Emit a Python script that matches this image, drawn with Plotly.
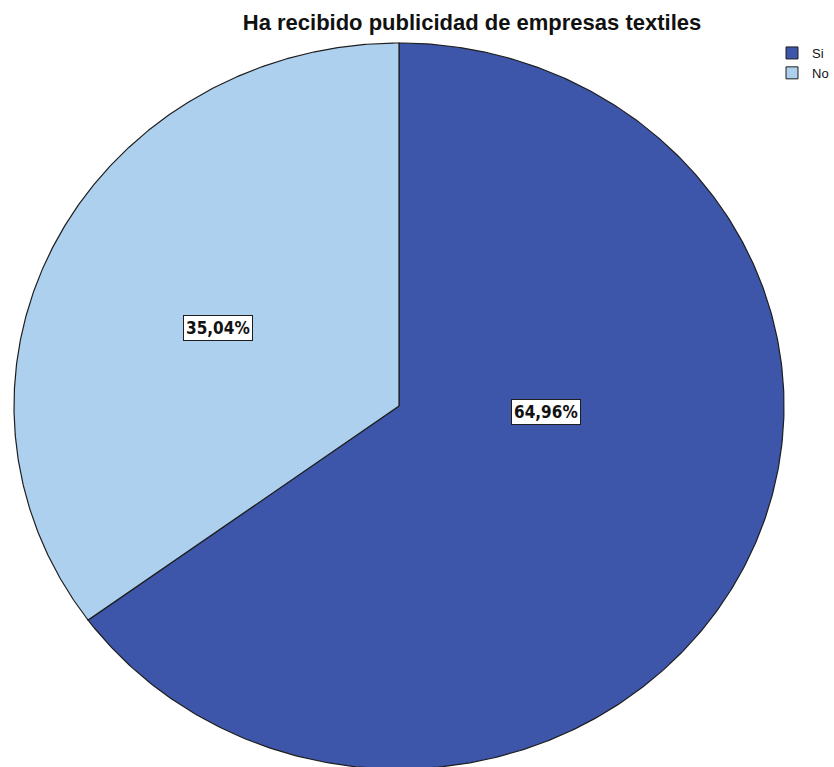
import numpy as np
import plotly.graph_objects as go

# ---- data ----
title_text = "Ha recibido publicidad de empresas textiles"
categories = ["Si", "No"]
percentages = [64.96, 35.04]
label_texts = ["64,96%", "35,04%"]

# ---- styles ----
colors = ["#3D56AA", "#ADD0EE"]
outline = "#1E1E1E"
W, H = 834, 767
CX, CY = 399, 406          # pie centre in pixels
RX, RY = 385, 363          # ellipse radii in pixels
# label anchor positions (as fraction of the radii)
label_pos = [(0.382, -0.017), (-0.470, 0.215)]

fig = go.Figure()

start = 0.0
for cat, pct, col in zip(categories, percentages, colors):
    th0 = start
    th1 = start + pct / 100.0 * 2 * np.pi
    t = np.linspace(th0, th1, 400)
    xs = np.concatenate([[0], np.sin(t), [0]])
    ys = np.concatenate([[0], np.cos(t), [0]])
    fig.add_trace(go.Scatter(
        x=xs, y=ys, mode="lines", fill="toself", fillcolor=col,
        line=dict(color=outline, width=1.2), showlegend=False,
        hoverinfo="skip"))
    start = th1

# legend entries
for cat, col in zip(categories, colors):
    fig.add_trace(go.Scatter(
        x=[None], y=[None], mode="markers", name=cat,
        marker=dict(symbol="square", size=12, color=col,
                    line=dict(color=outline, width=1))))

for txt, (lx, ly) in zip(label_texts, label_pos):
    fig.add_annotation(
        x=lx, y=ly, xref="x", yref="y", text="<b>%s</b>" % txt,
        showarrow=False, bgcolor="white", bordercolor=outline,
        borderwidth=1, borderpad=2,
        font=dict(family="DejaVu Sans Condensed, Liberation Sans Narrow, sans-serif",
                  size=17, color="#111111"))

x_range = [-CX / RX, (W - CX) / RX]
y_range = [-(H - CY) / RY, CY / RY]

fig.update_layout(
    width=W, height=H,
    margin=dict(l=0, r=0, t=0, b=0),
    paper_bgcolor="white", plot_bgcolor="white",
    xaxis=dict(range=x_range, visible=False, fixedrange=True),
    yaxis=dict(range=y_range, visible=False, fixedrange=True),
    title=dict(text="<b>%s</b>" % title_text, x=472 / W, xanchor="center",
               y=1 - 22 / H, yanchor="middle", yref="container",
               font=dict(family="Liberation Sans, Arial, sans-serif", size=22,
                         color="#111111")),
    legend=dict(x=772 / W, y=1 - 38 / H, xanchor="left", yanchor="top",
                font=dict(family="Liberation Sans, Arial, sans-serif", size=13,
                          color="#111111"),
                bgcolor="rgba(0,0,0,0)", tracegroupgap=0,
                itemwidth=30),
    showlegend=True,
)

fig.write_html(
    "out.html",
    config={"displayModeBar": False},
    post_script="document.body.style.margin='0';document.body.style.overflow='hidden';")
